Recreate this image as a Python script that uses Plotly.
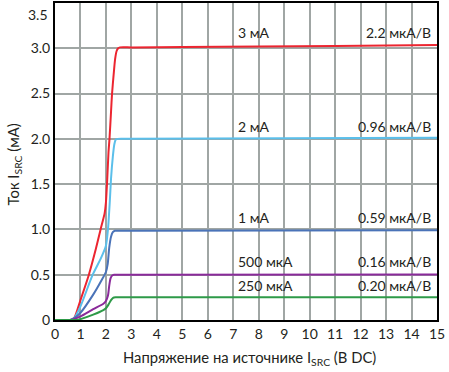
import plotly.graph_objects as go

# ---- data ----
x_red = [0, 0.6, 0.75, 1.0, 1.33, 1.6, 1.79, 1.95, 2.0, 2.05, 2.1, 2.14, 2.2, 2.24, 2.3, 2.36, 2.42, 2.48, 2.55, 3, 5, 8, 11, 15]
y_red = [0, 0.0, 0.02, 0.22, 0.5, 0.78, 1.0, 1.18, 1.3, 1.55, 1.85, 2.0, 2.3, 2.5, 2.7, 2.88, 2.97, 3.0, 3.01, 3.01, 3.015, 3.02, 3.025, 3.035]

x_lblue = [0, 0.6, 0.75, 1.0, 1.48, 1.8, 2.0, 2.08, 2.15, 2.2, 2.27, 2.33, 2.38, 2.45, 3, 15]
y_lblue = [0, 0.0, 0.02, 0.15, 0.5, 0.68, 0.82, 1.0, 1.3, 1.56, 1.8, 1.94, 1.99, 2.0, 2.0, 2.012]

x_dblue = [0, 0.6, 0.75, 1.0, 1.5, 1.85, 2.0, 2.07, 2.13, 2.2, 2.27, 2.35, 2.45, 3, 15]
y_dblue = [0, 0.0, 0.02, 0.08, 0.28, 0.45, 0.53, 0.62, 0.8, 0.92, 0.97, 0.985, 0.985, 0.985, 0.99]

x_purple = [0, 0.6, 0.75, 1.0, 1.5, 1.9, 2.0, 2.08, 2.13, 2.18, 2.24, 2.32, 2.45, 3, 15]
y_purple = [0, 0.0, 0.01, 0.04, 0.12, 0.18, 0.21, 0.27, 0.38, 0.46, 0.49, 0.5, 0.5, 0.5, 0.502]

x_green = [0, 0.7, 0.85, 1.0, 1.5, 1.9, 2.0, 2.1, 2.2, 2.28, 2.38, 3, 15]
y_green = [0, 0.0, 0.0, 0.01, 0.06, 0.11, 0.13, 0.17, 0.22, 0.245, 0.25, 0.25, 0.252]

series_names = ["3 мА", "2 мА", "1 мА", "500 мкА", "250 мкА"]
slopes = ["2.2 мкА/В", "0.96 мкА/В", "0.59 мкА/В", "0.16 мкА/В", "0.20 мкА/В"]
label_y = [3.17, 2.14, 1.13, 0.645, 0.38]
colors = ["#ec2530", "#5bbfea", "#4a73b8", "#8a2a9a", "#2e9a48"]

x_ticks = list(range(0, 16))
y_ticks = [0, 0.5, 1.0, 1.5, 2.0, 2.5, 3.0]
y_ticktext = ["0", "0.5", "1.0", "1.5", "2.0", "2.5", "3.0"]

FONT = "Lato"
TXT = "#231f20"
FS = 14

fig = go.Figure()
xs = [x_red, x_lblue, x_dblue, x_purple, x_green]
ys = [y_red, y_lblue, y_dblue, y_purple, y_green]
for i in range(5):
    fig.add_trace(go.Scatter(x=xs[i], y=ys[i], mode="lines", name=series_names[i],
                             line=dict(color=colors[i], width=2, shape="spline", smoothing=0.6),
                             showlegend=False))

for i in range(5):
    fig.add_annotation(x=7.1, y=label_y[i], text=series_names[i], showarrow=False,
                       xanchor="left", yanchor="middle",
                       font=dict(family=FONT, size=FS, color=TXT))
    fig.add_annotation(x=14.85, y=label_y[i], text=slopes[i], showarrow=False,
                       xanchor="right", yanchor="middle",
                       font=dict(family=FONT, size=FS, color=TXT))

# top tick label, placed inside as in the reference
fig.add_annotation(xref="paper", yref="paper", x=0, y=1, text="3.5", showarrow=False,
                   xanchor="right", yanchor="top", xshift=-5, yshift=-1,
                   font=dict(family=FONT, size=FS, color=TXT))

# axis titles
fig.add_annotation(xref="paper", yref="paper", x=0.51, y=-0.12,
                   text="Напряжение на источнике I<sub>SRC</sub> (В DC)", showarrow=False,
                   xanchor="center", yanchor="middle",
                   font=dict(family=FONT, size=14.8, color=TXT))
fig.add_annotation(xref="paper", yref="paper", x=-0.108, y=0.49,
                   text="Ток I<sub>SRC</sub> (мА)", showarrow=False, textangle=-90,
                   xanchor="center", yanchor="middle",
                   font=dict(family=FONT, size=14.8, color=TXT))

fig.update_xaxes(range=[0, 15], tickvals=x_ticks, ticks="", showgrid=True,
                 gridcolor="#a0a6a4", gridwidth=1.5, zeroline=False, automargin=False,
                 showline=True, linecolor="black", linewidth=2, mirror=True,
                 tickfont=dict(family=FONT, size=FS, color=TXT))
fig.update_yaxes(range=[0, 3.5], tickvals=y_ticks, ticktext=y_ticktext, ticks="",
                 showgrid=True, gridcolor="#a0a6a4", gridwidth=1.5, zeroline=False, automargin=False,
                 showline=True, linecolor="black", linewidth=2, mirror=True,
                 tickfont=dict(family=FONT, size=FS, color=TXT))

fig.update_layout(width=449, height=372, margin=dict(l=55, r=12, t=3, b=52),
                  paper_bgcolor="white", plot_bgcolor="white")

fig.write_html("out.html", config={"displayModeBar": False},
               post_script="document.body.style.margin='0';document.body.style.overflow='hidden';")
